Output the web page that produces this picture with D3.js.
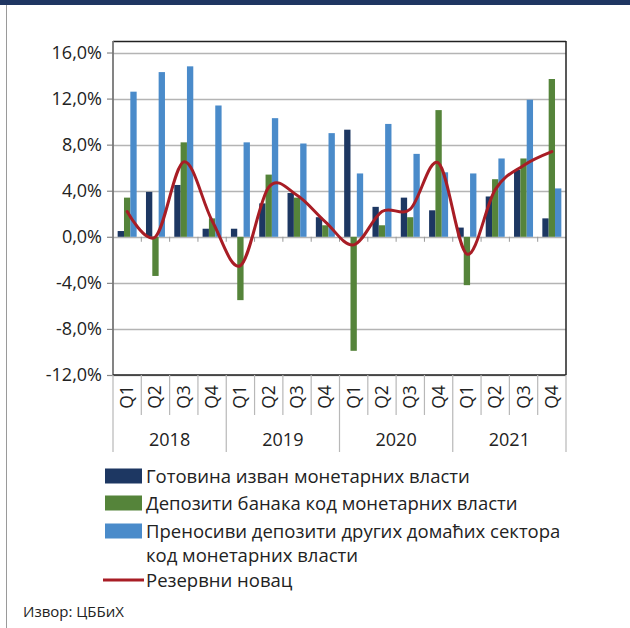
<!DOCTYPE html>
<html>
<head>
<meta charset="utf-8">
<script src="https://cdn.jsdelivr.net/npm/d3@7/dist/d3.min.js"></script>
<style>
  html, body { margin: 0; padding: 0; background: #fff; }
  svg { display: block; font-family: "Open Sans", "Noto Sans", sans-serif; }
</style>
</head>
<body>
<svg id="chart" width="630" height="628"></svg>
<script>
// Quarterly growth rates, 2018–2021
const years = ["2018", "2019", "2020", "2021"];
const quarters = ["Q1", "Q2", "Q3", "Q4"];

const currency = [0.5, 3.9, 4.5, 0.7, 0.7, 2.9, 3.8, 1.7, 9.3, 2.6, 3.4, 2.3, 0.8, 3.5, 5.8, 1.6];
const bankDeposits = [3.4, -3.4, 8.2, 1.6, -5.5, 5.4, 3.4, 1.0, -9.9, 1.0, 1.7, 11.0, -4.2, 5.0, 6.8, 13.7];
const transferable = [12.6, 14.3, 14.8, 11.4, 8.2, 10.3, 8.1, 9.0, 5.5, 9.8, 7.2, 5.6, 5.5, 6.8, 11.9, 4.2];
const reserveMoney = [2.2, 0.0, 6.5, 1.4, -2.5, 4.3, 3.6, 1.3, -0.7, 2.2, 2.4, 6.4, -1.5, 4.1, 6.2, 7.4];

const yTicks = [-12, -8, -4, 0, 4, 8, 12, 16];

const seriesNames = [
  "Готовина изван монетарних власти",
  "Депозити банака код монетарних власти",
  "Преносиви депозити других домаћих сектора",
  "Резервни новац"
];
const colors = ["#1d3762", "#55843a", "#4a8bca", "#a81d25"];

const categories = [];
years.forEach(y => quarters.forEach(q => categories.push(y + "-" + q)));

const svg = d3.select("#chart");

// page header band and left page rule
svg.append("rect").attr("x", 0).attr("y", 0).attr("width", 630).attr("height", 5).attr("fill", "#1f3662");
svg.append("line").attr("x1", 6.5).attr("x2", 6.5).attr("y1", 5).attr("y2", 628)
  .attr("stroke", "#9a9a9a").attr("stroke-width", 1);

const plot = { left: 113, right: 566, top: 41, bottom: 375 };

const x = d3.scaleBand().domain(categories).range([plot.left, plot.right]).padding(0);
const y = d3.scaleLinear().domain([-12, 17]).range([plot.bottom, plot.top]);

const groupW = x.bandwidth() / 1.49;
const xs = d3.scaleBand().domain([0, 1, 2]).range([0, groupW]).padding(0);

// gridlines
svg.append("g").selectAll("line").data(yTicks).join("line")
  .attr("x1", plot.left).attr("x2", plot.right)
  .attr("y1", d => Math.round(y(d)) + 0.5).attr("y2", d => Math.round(y(d)) + 0.5)
  .attr("stroke", "#b4b4b4").attr("stroke-width", 1.3);

// y axis labels
const yAxis = d3.axisLeft(y).tickValues(yTicks).tickSize(6)
  .tickFormat(d => d3.format(".1f")(d).replace(".", ",").replace("\u2212", "-") + "%");
const ya = svg.append("g").attr("transform", `translate(${plot.left},0)`).call(yAxis);
ya.select(".domain").remove();
ya.selectAll(".tick line").attr("stroke", "#888").attr("stroke-width", 1.2);
ya.selectAll(".tick text").attr("font-size", "18px").attr("fill", "#222")
  .attr("x", -11)
  .attr("font-family", "'Open Sans', sans-serif");

// bars
const series = [currency, bankDeposits, transferable];
series.forEach((vals, si) => {
  svg.append("g").selectAll("rect").data(vals).join("rect")
    .attr("x", (d, i) => x(categories[i]) + (x.bandwidth() - groupW) / 2 + xs(si))
    .attr("width", xs.bandwidth())
    .attr("y", d => y(Math.max(0, d)))
    .attr("height", d => Math.abs(y(d) - y(0)))
    .attr("fill", colors[si]);
});

// category ticks on the zero line
svg.append("g").selectAll("line").data(categories.slice(1)).join("line")
  .attr("x1", d => x(d)).attr("x2", d => x(d))
  .attr("y1", y(0)).attr("y2", y(0) + 5)
  .attr("stroke", "#999").attr("stroke-width", 1);

// reserve money line
const line = d3.line()
  .x((d, i) => x(categories[i]) + x.bandwidth() / 2)
  .y(d => y(d))
  .curve(d3.curveCatmullRom.alpha(0));
svg.append("path").datum(reserveMoney).attr("d", line)
  .attr("fill", "none").attr("stroke", colors[3]).attr("stroke-width", 3)
  .attr("stroke-linejoin", "round").attr("stroke-linecap", "round");

// plot frame
svg.append("line").attr("x1", plot.left).attr("x2", plot.right).attr("y1", plot.top + 0.5).attr("y2", plot.top + 0.5)
  .attr("stroke", "#222").attr("stroke-width", 1.5);
svg.append("line").attr("x1", plot.right).attr("x2", plot.right).attr("y1", plot.top).attr("y2", plot.bottom)
  .attr("stroke", "#222").attr("stroke-width", 1.5);
svg.append("line").attr("x1", plot.left).attr("x2", plot.left).attr("y1", plot.top).attr("y2", plot.bottom)
  .attr("stroke", "#777").attr("stroke-width", 1.8);
svg.append("line").attr("x1", plot.left).attr("x2", plot.right).attr("y1", plot.bottom).attr("y2", plot.bottom)
  .attr("stroke", "#222").attr("stroke-width", 1.5);

// category axis: quarter separators, year separators, labels
const bounds = categories.map(c => x(c)).concat([plot.right]);
svg.append("g").selectAll("line").data(bounds).join("line")
  .attr("x1", d => d).attr("x2", d => d)
  .attr("y1", plot.bottom)
  .attr("y2", (d, i) => (i % 4 === 0) ? 452 : 415)
  .attr("stroke", "#b8b8b8").attr("stroke-width", 1.2);

svg.append("g").selectAll("text").data(categories).join("text")
  .attr("transform", d => `translate(${x(d) + x.bandwidth() / 2 + 6},${397}) rotate(-90)`)
  .attr("text-anchor", "middle")
  .attr("font-size", "17.5px").attr("fill", "#222")
  .text(d => d.split("-")[1]);

svg.append("g").selectAll("text").data(years).join("text")
  .attr("x", yr => (x(yr + "-Q1") + x(yr + "-Q4") + x.bandwidth()) / 2)
  .attr("y", 446)
  .attr("text-anchor", "middle")
  .attr("font-size", "18px").attr("fill", "#222")
  .text(d => d);

// legend
const legend = svg.append("g");
const legendRows = [
  { type: "rect", color: colors[0], lines: [seriesNames[0]], cy: 476 },
  { type: "rect", color: colors[1], lines: [seriesNames[1]], cy: 503 },
  { type: "rect", color: colors[2], lines: [seriesNames[2], "код монетарних власти"], cy: 531 },
  { type: "line", color: colors[3], lines: [seriesNames[3]], cy: 580 }
];
legendRows.forEach(r => {
  if (r.type === "rect") {
    legend.append("rect").attr("x", 105).attr("y", r.cy - 7.5).attr("width", 37).attr("height", 15).attr("fill", r.color);
  } else {
    legend.append("line").attr("x1", 103).attr("x2", 144).attr("y1", r.cy).attr("y2", r.cy)
      .attr("stroke", r.color).attr("stroke-width", 3);
  }
  r.lines.forEach((t, k) => {
    legend.append("text").attr("x", 146).attr("y", r.cy + 6.5 + k * 24)
      .attr("font-size", "18.5px").attr("fill", "#222").text(t);
  });
});

// source note
svg.append("text").attr("x", 23).attr("y", 617).attr("font-size", "15px").attr("fill", "#222")
  .text("Извор: ЦББиХ");
</script>
</body>
</html>
